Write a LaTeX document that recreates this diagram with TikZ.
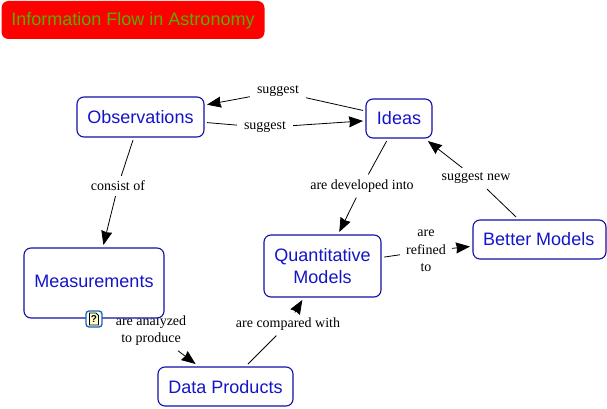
\documentclass[tikz,border=0pt]{standalone}
\usepackage{fontspec}
\setmainfont{Liberation Serif}
\newfontfamily\boxfont{Liberation Sans}
\usetikzlibrary{arrows.meta,positioning}
\pgfdeclarelayer{back}
\pgfdeclarelayer{labels}
\pgfsetlayers{back,labels,main}
\definecolor{boxblue}{HTML}{1010A8}
\definecolor{textblue}{HTML}{1414C8}
\definecolor{titlegreen}{HTML}{58AE00}
\definecolor{iconblue}{HTML}{1A62B0}
\newcommand{\basedrop}[2]{\smash{\raisebox{-#1pt}{#2}}}
\tikzset{
  concept/.style={draw=boxblue,line width=1.1pt,fill=white,rounded corners=7pt,
    text=textblue,font=\boxfont\fontsize{18}{22.5}\selectfont,align=center,
    minimum width=#1,inner sep=0pt,outer sep=3pt},
  linklabel/.style={font=\fontsize{14}{17.5}\selectfont,align=center,fill=white,inner xsep=7pt,inner ysep=5pt},
  line/.style={draw=black,line width=0.8pt},
  arrow/.style={line,-{Stealth[length=14pt,width=11pt,inset=1pt]}}
}
\begin{document}
\begin{tikzpicture}[x=1pt,y=-1pt]
\useasboundingbox (0,0) rectangle (607,409);
% title
\node[fill=red,rounded corners=7pt,text=titlegreen,font=\boxfont\fontsize{18}{24}\selectfont,
  minimum width=263pt,minimum height=38pt,inner sep=0pt] (title) at (133,20) {\basedrop{5.8}{Information Flow in Astronomy}};
% concepts
\node[concept=127pt,minimum height=40pt] (obs) at (140.5,117) {Observations};
\node[concept=66pt,minimum height=39pt] (ideas) at (399,118.5) {Ideas};
\node[concept=140pt,minimum height=70pt] (meas) at (94,283) {\basedrop{4.3}{Measurements}};
\node[concept=117pt,minimum height=62pt] (quant) at (322.5,266) {Quantitative\\Models};
\node[concept=133pt,minimum height=39pt] (better) at (539.5,239.5) {\hspace{-1.5pt}Better Models};
\node[concept=135pt,minimum height=39pt] (data) at (225.5,386.5) {\basedrop{6.7}{Data Products}};
% link labels
\begin{pgfonlayer}{labels}
\node[linklabel] (s1) at (278,91.5) {suggest};
\node[linklabel] (s2) at (265,127.5) {suggest};
\node[linklabel] (cons) at (118,186) {consist of};
\node[linklabel] (dev) at (362,186) {are developed into};
\node[linklabel] (snew) at (476,178.5) {suggest new};
\node[linklabel,inner xsep=6pt] (ref) at (426,251) {are\\refined\\to};
\node[linklabel] (ana) at (151,330.5) {are analyzed\\to produce};
\node[linklabel] (comp) at (288,324) {are compared with};
\end{pgfonlayer}
% connectors
\draw[line] (ideas) -- (s1);
\draw[arrow] (s1) -- (obs);
\draw[line] (obs) -- (s2);
\draw[arrow] (s2) -- (ideas);
\draw[line] (obs) -- (cons);
\draw[arrow] (cons) -- (meas);
\draw[line] (ideas) -- (dev);
\draw[arrow] (dev) -- (quant);
\draw[line] (better) -- (snew);
\draw[arrow] (snew) -- (ideas);
\draw[line] (quant) -- (ref);
\draw[arrow] (ref) -- (better);
\begin{pgfonlayer}{back}
\draw[line] (meas) -- (ana);
\end{pgfonlayer}
\draw[arrow] (ana) -- (data);
\draw[line] (data) -- (comp);
\draw[arrow] (comp) -- (quant);
% note icon on Measurements
\node[draw=iconblue,line width=1.3pt,fill=white,rounded corners=3pt,
  minimum width=16pt,minimum height=16pt,inner sep=0pt] (icon) at (94,319) {};
\draw[black,line width=0.9pt,fill=yellow!20] (89.5,313) -- (96,313) -- (98.5,315.5) -- (98.5,325) -- (89.5,325) -- cycle;
\node[inner sep=0pt,font=\boxfont\bfseries\fontsize{10}{10}\selectfont] (iconq) at (94,319.2) {?};
\end{tikzpicture}
\end{document}
